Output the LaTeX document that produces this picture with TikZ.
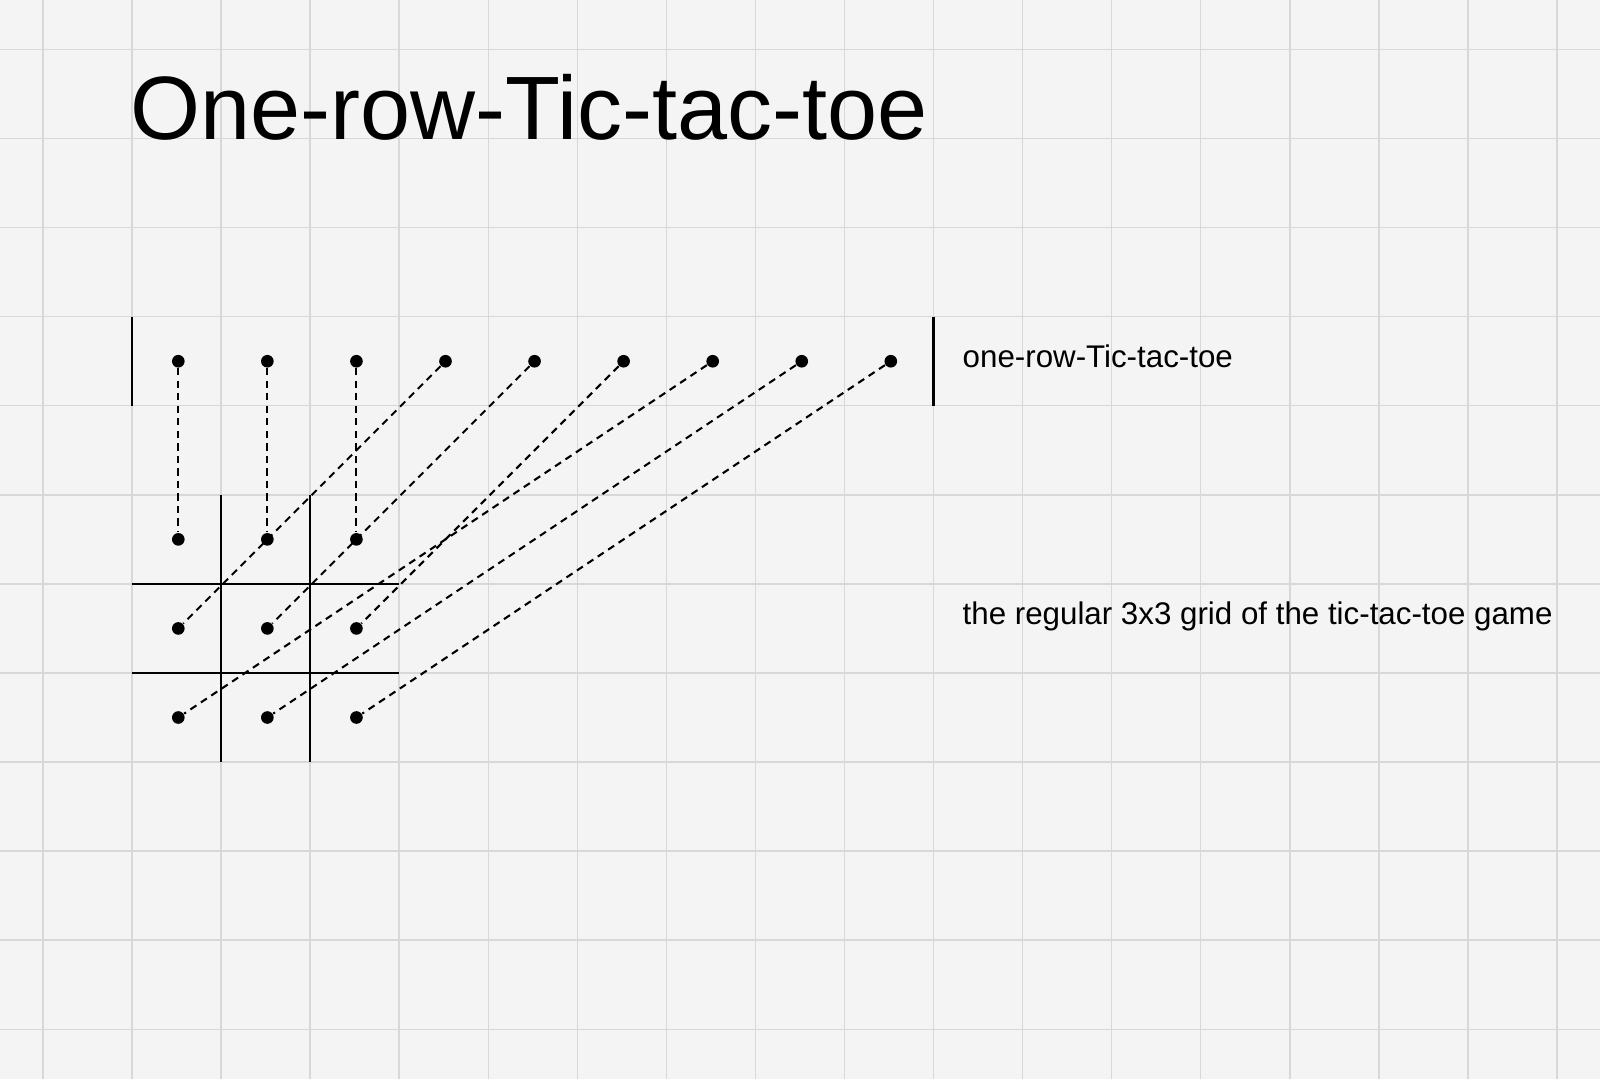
\documentclass[tikz,border=0pt]{standalone}
\usepackage{fontspec}
\setmainfont{Liberation Sans}
\usepackage{tikz}
\usetikzlibrary{positioning}
\usepackage{xcolor}
\definecolor{paperBg}{RGB}{244,244,244}
\definecolor{gridLine}{RGB}{216,216,216}

\begin{document}
\begin{tikzpicture}[
    node distance=1cm and 1cm,
    dot/.style={circle, fill=black, inner sep=0pt, minimum size=0.142cm, on grid},
    link/.style={line width=0.65pt, dash pattern=on 2.3pt off 1.7pt},
    bar/.style={line width=0.7pt},
    board/.style={line width=0.65pt},
    gridline/.style={draw=gridLine, line width=0.45pt},
    labeltext/.style={inner sep=0pt, anchor=base west, font=\fontsize{10}{12}\selectfont}
]
\useasboundingbox (-1.482,-8.559) rectangle (16.483,3.556);
\fill[paperBg] (-1.482,-8.559) rectangle (16.483,3.556);
\draw[gridline, step=1] (-1.482,-8.559) grid (16.483,3.556);

\node[inner sep=0pt, anchor=base west, font=\fontsize{28.75}{34}\selectfont] (title) at (-0.02,1.985) {One-row-Tic-tac-toe};

\draw[bar] (0,0) -- (0,-1);
\draw[bar] (9,0) -- (9,-1);

\node[dot] (t1) at (0.52,-0.5) {};
\node[dot, right=of t1] (t2) {};
\node[dot, right=of t2] (t3) {};
\node[dot, right=of t3] (t4) {};
\node[dot, right=of t4] (t5) {};
\node[dot, right=of t5] (t6) {};
\node[dot, right=of t6] (t7) {};
\node[dot, right=of t7] (t8) {};
\node[dot, right=of t8] (t9) {};

\draw[board] (1,-2) -- (1,-5);
\draw[board] (2,-2) -- (2,-5);
\draw[board] (0,-3) -- (3,-3);
\draw[board] (0,-4) -- (3,-4);

\node[dot] (g1) at (0.52,-2.5) {};
\node[dot, right=of g1] (g2) {};
\node[dot, right=of g2] (g3) {};
\node[dot, below=of g1] (g4) {};
\node[dot, right=of g4] (g5) {};
\node[dot, right=of g5] (g6) {};
\node[dot, below=of g4] (g7) {};
\node[dot, right=of g7] (g8) {};
\node[dot, right=of g8] (g9) {};

\draw[link] (t1) -- (g1);
\draw[link] (t2) -- (g2);
\draw[link] (t3) -- (g3);
\draw[link] (t4) -- (g4);
\draw[link] (t5) -- (g5);
\draw[link] (t6) -- (g6);
\draw[link] (t7) -- (g7);
\draw[link] (t8) -- (g8);
\draw[link] (t9) -- (g9);

\node[labeltext] (rowlabel) at (9.32,-0.573) {one-row-Tic-tac-toe};
\node[labeltext] (gridlabel) at (9.32,-3.46) {the regular 3x3 grid of the tic-tac-toe game};
\end{tikzpicture}
\end{document}
